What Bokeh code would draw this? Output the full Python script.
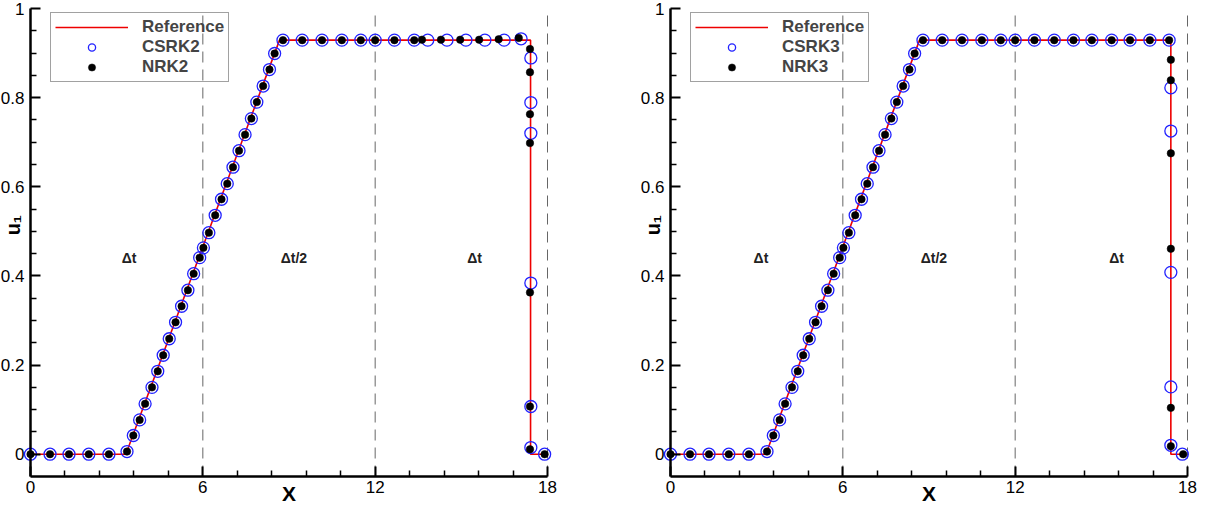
import math
from bokeh.plotting import figure
from bokeh.layouts import row
from bokeh.models import Label, FixedTicker, Range1d
from bokeh.embed import file_html
from bokeh.resources import INLINE

# ---------------- data ----------------
x_ticks = [0, 6, 12, 18]
x_tick_labels = ["0", "6", "12", "18"]
x_minor = [1.2, 2.4, 3.6, 4.8, 7.2, 8.4, 9.6, 10.8, 13.2, 14.4, 15.6, 16.8]
y_ticks = [0, 0.2, 0.4, 0.6, 0.8, 1.0]
y_tick_labels = ["0", "0.2", "0.4", "0.6", "0.8", "1"]
y_minor = [0.05, 0.1, 0.15, 0.25, 0.3, 0.35, 0.45, 0.5, 0.55, 0.65, 0.7, 0.75, 0.85, 0.9, 0.95]
x_lim = [0, 18]
y_lim = [-0.05, 1.0]
interfaces = [6, 12, 18]
region_labels = ["Δt", "Δt/2", "Δt"]

# left panel
ref2_x = [0, 3.32, 8.67, 17.41, 17.41, 17.9]
ref2_y = [0, 0, 0.929, 0.929, 0, 0]

csrk2_x = [0, 0.68, 1.34, 2.03, 2.73, 3.36, 3.58, 3.80, 3.99, 4.23, 4.43, 4.62, 4.83, 5.05, 5.26,
           5.48, 5.68, 5.89, 6.02, 6.21, 6.43, 6.65, 6.85, 7.05, 7.26, 7.47, 7.69, 7.88, 8.10, 8.32,
           8.50, 8.79, 9.46, 10.15, 10.84, 11.50, 12.0, 12.67, 13.36, 13.83, 14.50, 15.16, 15.82,
           16.49, 17.08, 17.42, 17.42, 17.42, 17.42, 17.42, 17.42, 17.9]
csrk2_y = [0, 0, 0, 0, 0, 0.006, 0.042, 0.077, 0.113, 0.150, 0.186, 0.222, 0.259, 0.296, 0.332,
           0.368, 0.405, 0.441, 0.463, 0.497, 0.536, 0.572, 0.607, 0.644, 0.681, 0.717, 0.753, 0.790,
           0.826, 0.863, 0.899, 0.929, 0.929, 0.929, 0.929, 0.929, 0.929, 0.929, 0.929, 0.929, 0.929,
           0.929, 0.929, 0.929, 0.932, 0.889, 0.789, 0.720, 0.384, 0.107, 0.015, 0]

nrk2_x = [0, 0.68, 1.34, 2.03, 2.73, 3.36, 3.58, 3.80, 3.99, 4.23, 4.43, 4.62, 4.83, 5.05, 5.26,
          5.48, 5.68, 5.89, 6.02, 6.21, 6.43, 6.65, 6.85, 7.05, 7.26, 7.47, 7.69, 7.88, 8.10, 8.32,
          8.50, 8.79, 9.46, 10.15, 10.84, 11.50, 12.0, 12.67, 13.36, 13.63, 14.29, 14.96, 15.62,
          16.30, 17.00, 17.39, 17.39, 17.39, 17.39, 17.39, 17.39, 17.39, 17.9]
nrk2_y = [0, 0, 0, 0, 0, 0.006, 0.042, 0.077, 0.113, 0.150, 0.186, 0.222, 0.259, 0.296, 0.332,
          0.368, 0.405, 0.441, 0.463, 0.497, 0.536, 0.572, 0.607, 0.644, 0.681, 0.717, 0.753, 0.790,
          0.826, 0.863, 0.899, 0.929, 0.929, 0.929, 0.929, 0.929, 0.929, 0.929, 0.929, 0.930, 0.930,
          0.930, 0.930, 0.931, 0.934, 0.909, 0.857, 0.763, 0.698, 0.363, 0.107, 0.011, 0]

# right panel
ref3_x = [0, 3.32, 8.67, 17.42, 17.42, 17.82]
ref3_y = [0, 0, 0.929, 0.929, 0, 0]

csrk3_x = [0, 0.68, 1.34, 2.03, 2.73, 3.36, 3.58, 3.80, 3.99, 4.23, 4.43, 4.62, 4.83, 5.05, 5.26,
           5.48, 5.68, 5.89, 6.02, 6.21, 6.43, 6.65, 6.85, 7.05, 7.26, 7.47, 7.69, 7.88, 8.10, 8.32,
           8.50, 8.79, 9.46, 10.15, 10.84, 11.50, 12.0, 12.67, 13.36, 14.03, 14.67, 15.36, 16.00,
           16.69, 17.36, 17.42, 17.42, 17.42, 17.42, 17.42, 17.82]
csrk3_y = [0, 0, 0, 0, 0, 0.006, 0.042, 0.077, 0.113, 0.150, 0.186, 0.222, 0.259, 0.296, 0.332,
           0.368, 0.405, 0.441, 0.463, 0.497, 0.536, 0.572, 0.607, 0.644, 0.681, 0.717, 0.753, 0.790,
           0.826, 0.863, 0.899, 0.929, 0.929, 0.929, 0.929, 0.929, 0.929, 0.929, 0.929, 0.929, 0.929,
           0.929, 0.929, 0.929, 0.929, 0.822, 0.725, 0.408, 0.151, 0.020, 0]

nrk3_x = [0, 0.68, 1.34, 2.03, 2.73, 3.36, 3.58, 3.80, 3.99, 4.23, 4.43, 4.62, 4.83, 5.05, 5.26,
          5.48, 5.68, 5.89, 6.02, 6.21, 6.43, 6.65, 6.85, 7.05, 7.26, 7.47, 7.69, 7.88, 8.10, 8.32,
          8.50, 8.79, 9.46, 10.15, 10.84, 11.50, 12.0, 12.67, 13.36, 14.03, 14.67, 15.36, 16.00,
          16.69, 17.36, 17.42, 17.42, 17.42, 17.42, 17.42, 17.42, 17.85]
nrk3_y = [0, 0, 0, 0, 0, 0.006, 0.042, 0.077, 0.113, 0.150, 0.186, 0.222, 0.259, 0.296, 0.332,
          0.368, 0.405, 0.441, 0.463, 0.497, 0.536, 0.572, 0.607, 0.644, 0.681, 0.717, 0.753, 0.790,
          0.826, 0.863, 0.899, 0.929, 0.929, 0.929, 0.929, 0.929, 0.929, 0.929, 0.929, 0.929, 0.929,
          0.929, 0.929, 0.929, 0.929, 0.885, 0.839, 0.675, 0.461, 0.104, 0.018, 0]

FONT = "Liberation Sans"

# ---------------- layout geometry (pixels inside each canvas) ----------------
H = 507               # canvas height
AX_LEFT = 30          # pixel column of x = 0
AX_W = 517            # pixels from x = 0 to x = 18
AX_TOP = 8            # pixel row of y = 1
AX_BOTTOM = 476       # pixel row of y = -0.05


def make_panel(ref_x, ref_y, cs_x, cs_y, nr_x, nr_y, cs_name, nr_name, label_x, width):
    xs = AX_W / (x_lim[1] - x_lim[0])
    ys = (AX_BOTTOM - AX_TOP) / (y_lim[1] - y_lim[0])
    xr = Range1d(x_lim[0] - AX_LEFT / xs, x_lim[0] + (width - AX_LEFT) / xs)
    yr = Range1d(y_lim[0] - (H - AX_BOTTOM) / ys, y_lim[1] + AX_TOP / ys)

    p = figure(width=width, height=H, output_backend="svg", toolbar_location=None,
               x_range=xr, y_range=yr,
               min_border_left=0, min_border_right=0, min_border_top=0, min_border_bottom=0)
    p.title.visible = False
    p.xgrid.visible = False
    p.ygrid.visible = False
    p.outline_line_color = None
    p.background_fill_color = "white"
    p.border_fill_color = "white"

    # dashed interface lines
    p.segment(x0=interfaces, y0=[y_lim[0]] * len(interfaces), x1=interfaces,
              y1=[y_lim[1]] * len(interfaces), line_color="#666666", line_width=1,
              line_dash="11 7")

    p.line(ref_x, ref_y, line_color="#ee0000", line_width=1.6, legend_label="Reference")
    p.scatter(cs_x, cs_y, marker="circle", size=12, fill_color=None, line_color="#2222ff",
              line_width=1.3, legend_label=cs_name)
    p.scatter(nr_x, nr_y, marker="circle", size=7.5, fill_color="black", line_color="black",
              line_width=0.5, legend_label=nr_name)

    xa = p.xaxis[0]
    ya = p.yaxis[0]
    xa.fixed_location = y_lim[0]
    ya.fixed_location = x_lim[0]
    xa.bounds = tuple(x_lim)
    ya.bounds = tuple(y_lim)
    for ax in (xa, ya):
        ax.axis_line_width = 2.5
        ax.axis_line_color = "black"
        ax.major_tick_in = 10
        ax.major_tick_out = 0
        ax.minor_tick_in = 6
        ax.minor_tick_out = 0
        ax.major_tick_line_width = 2
        ax.minor_tick_line_width = 1.5
        ax.major_tick_line_color = "black"
        ax.minor_tick_line_color = "black"
        ax.major_label_text_font = FONT
        ax.major_label_text_font_size = "17px"
        ax.major_label_text_color = "black"
    xa.ticker = FixedTicker(ticks=x_ticks, minor_ticks=x_minor)
    ya.ticker = FixedTicker(ticks=y_ticks, minor_ticks=y_minor)
    xa.major_label_overrides = dict(zip(x_ticks, x_tick_labels))
    ya.major_label_overrides = dict(zip(y_ticks, y_tick_labels))
    xa.major_label_standoff = 4
    ya.major_label_standoff = 6

    # axis titles
    p.add_layout(Label(x=(x_lim[0] + x_lim[1]) / 2, y=y_lim[0], y_offset=-17, text="X",
                       text_align="center", text_baseline="middle", text_font=FONT,
                       text_font_style="bold", text_font_size="21px", text_color="black"))
    p.add_layout(Label(x=x_lim[0], y=0.514, x_offset=-18, text="u₁", angle=math.pi / 2,
                       text_align="center", text_baseline="middle", text_font=FONT,
                       text_font_style="bold", text_font_size="20px", text_color="black"))

    # region annotations
    for lx, txt in zip(label_x, region_labels):
        p.add_layout(Label(x=lx, y=0.44, text=txt, text_align="center", text_baseline="middle",
                           text_font=FONT, text_font_style="bold", text_font_size="14px",
                           text_color="#222222"))

    leg = p.legend[0]
    leg.location = (AX_LEFT + 20, H - 16 - 66)
    leg.margin = 0
    leg.padding = 4
    leg.spacing = 0
    leg.glyph_width = 73
    leg.glyph_height = 18
    leg.label_height = 18
    leg.label_standoff = 14
    leg.label_text_font = FONT
    leg.label_text_font_style = "bold"
    leg.label_text_font_size = "17px"
    leg.background_fill_alpha = 0
    leg.border_line_color = "#444444"
    leg.border_line_width = 1
    return p


p1 = make_panel(ref2_x, ref2_y, csrk2_x, csrk2_y, nrk2_x, nrk2_y, "CSRK2", "NRK2",
                [3.43, 9.17, 15.46], 640)
p2 = make_panel(ref3_x, ref3_y, csrk3_x, csrk3_y, nrk3_x, nrk3_y, "CSRK3", "NRK3",
                [3.15, 9.17, 15.53], 565)

layout = row(p1, p2)
open("out.html", "w").write(file_html(layout, INLINE, title="u1 profiles"))
